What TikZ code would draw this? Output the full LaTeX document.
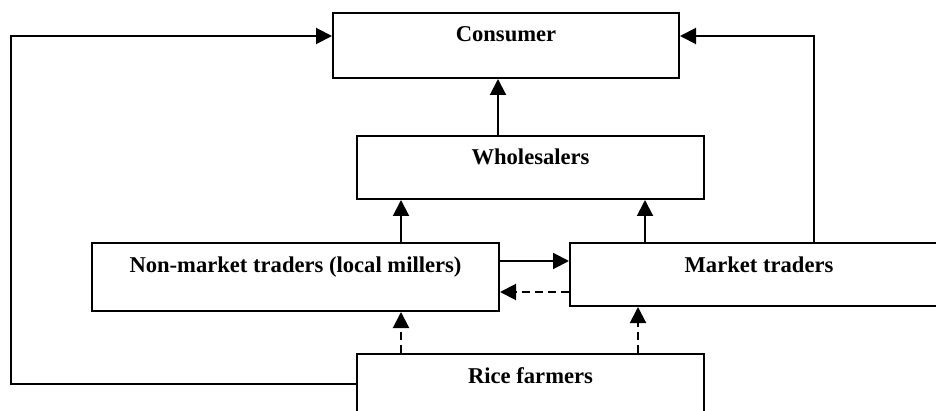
\documentclass[tikz,border=0pt]{standalone}
\usepackage{fontspec}
\setmainfont{Liberation Serif}
\usepackage{tikz}
\usetikzlibrary{positioning, arrows.meta, calc}
\tikzstyle{box} = [rectangle, draw, line width=1pt, inner sep=0pt, text height=14.5pt, font=\fontsize{11.3}{13}\selectfont\bfseries]
\tikzstyle{arrow} = [line width=1pt, -{Triangle[length=8pt, width=8pt]}]
\tikzstyle{dasharrow} = [arrow, dash pattern=on 4pt off 2.5pt]

\begin{document}
\begin{tikzpicture}[x=0.5pt, y=-0.5pt]
      \clip (0,0) rectangle (936,411);

      % Boxes
      \node[box, minimum width=173pt, text depth=18pt] (consumer) at (506,45.5) {Consumer};
      \node[box, minimum width=173.5pt, text depth=17pt] (wholesalers) at (530.5,167.5) {Wholesalers};
      \node[box, minimum width=203.5pt, text depth=19.5pt] (nonmarket) at (295.5,277) {Non-market traders (local millers)};
      \node[box, minimum width=189pt, text depth=17pt] (market) at (759,274.5) {Market traders};
      \node[box, minimum width=173.5pt, text depth=15.5pt] (farmers) at (530.5,384) {Rice farmers};

      % Bends of the outer lines
      \coordinate (leftbend) at (11,36);
      \coordinate (rightbend) at (814,36);

      % Connections
      \draw[arrow] (farmers.west) -| (leftbend) -- (consumer.west |- leftbend);
      \draw[arrow] (market.north -| rightbend) -- (rightbend) -- (consumer.east |- rightbend);
      \draw[arrow] ([xshift=-4pt]consumer.south |- wholesalers.north) -- ([xshift=-4pt]consumer.south);
      \draw[arrow] ([xshift=22.5pt]wholesalers.south west |- nonmarket.north) -- ([xshift=22.5pt]wholesalers.south west);
      \draw[arrow] ([xshift=-30pt]wholesalers.south east |- market.north) -- ([xshift=-30pt]wholesalers.south east);
      \draw[arrow] ([yshift=6.75pt]market.west -| nonmarket.east) -- ([yshift=6.75pt]market.west);
      \draw[dasharrow] ([yshift=-8.75pt]market.west) -- ([yshift=-8.75pt]market.west -| nonmarket.east);
      \draw[dasharrow] ([xshift=22.5pt]farmers.north west) -- ([xshift=22.5pt]farmers.north west |- nonmarket.south);
      \draw[dasharrow] ([xshift=-33.5pt]farmers.north east) -- ([xshift=-33.5pt]farmers.north east |- market.south);
    \end{tikzpicture}
\end{document}
